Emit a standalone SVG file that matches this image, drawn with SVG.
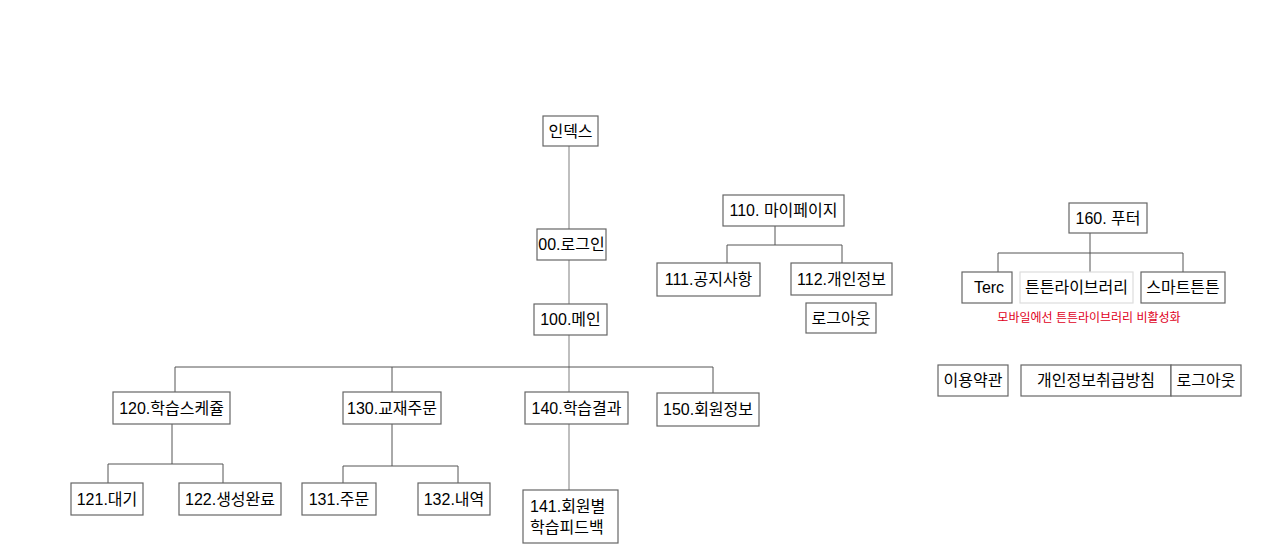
<svg xmlns="http://www.w3.org/2000/svg" width="1280" height="560" viewBox="0 0 1280 560">
<style>
.b{fill:#fff;stroke:#666;stroke-width:1.2}
.bl{fill:#fff;stroke:#ddd;stroke-width:1.2}
.t{font-family:"Liberation Sans","Noto Sans CJK KR",sans-serif;font-size:16px;fill:#000;text-anchor:middle;dominant-baseline:central}
.r{font-family:"Liberation Sans","Noto Sans CJK KR",sans-serif;font-size:12px;fill:#e0001b;text-anchor:middle;dominant-baseline:central}
.c{fill:none;stroke:#555;stroke-width:1}
.cl{fill:none;stroke:#aaa;stroke-width:1.5}
</style>
<rect width="1280" height="560" fill="#fff"/>
<g id="connectors">
<path class="cl" d="M569 146V229M569 260V304M569 335V392M569 424V490"/>
<path class="c" d="M175 392V367H713V393M392 367V392"/>
<path class="c" d="M172 424V464M108 483V464H223V483"/>
<path class="c" d="M392 424V466M343 483V466H458V483"/>
<path class="c" d="M775 226V245M727 263V245H842V263"/>
<path class="c" d="M1090 233V272M998 272V253H1183V272"/>
</g>
<g id="n-index"><rect class="b" x="543" y="116" width="55" height="30"/><text class="t" x="570.5" y="131">인덱스</text></g>
<g id="n-login"><rect class="b" x="537" y="229" width="69" height="31"/><text class="t" x="571.5" y="244.5">00.로그인</text></g>
<g id="n-main"><rect class="b" x="534" y="304" width="73" height="31"/><text class="t" x="570.5" y="319.5">100.메인</text></g>
<g id="n-120"><rect class="b" x="113" y="392" width="117" height="32"/><text class="t" x="171.5" y="408">120.학습스케쥴</text></g>
<g id="n-130"><rect class="b" x="343" y="392" width="98" height="32"/><text class="t" x="392" y="408">130.교재주문</text></g>
<g id="n-140"><rect class="b" x="525" y="392" width="103" height="32"/><text class="t" x="576.5" y="408">140.학습결과</text></g>
<g id="n-150"><rect class="b" x="657" y="393" width="102" height="33"/><text class="t" x="708" y="409.5">150.회원정보</text></g>
<g id="n-121"><rect class="b" x="71" y="483" width="72" height="32"/><text class="t" x="107" y="499">121.대기</text></g>
<g id="n-122"><rect class="b" x="179" y="483" width="102" height="32"/><text class="t" x="230" y="499">122.생성완료</text></g>
<g id="n-131"><rect class="b" x="302" y="483" width="74" height="32"/><text class="t" x="339" y="499">131.주문</text></g>
<g id="n-132"><rect class="b" x="418" y="483" width="72" height="32"/><text class="t" x="454" y="499">132.내역</text></g>
<g id="n-141"><rect class="b" x="523" y="490" width="95" height="53"/><text class="t" x="530" y="506" style="text-anchor:start">141.회원별</text><text class="t" x="530" y="527" style="text-anchor:start">학습피드백</text></g>
<g id="n-110"><rect class="b" x="723" y="195" width="121" height="31"/><text class="t" x="783.5" y="210.5">110. 마이페이지</text></g>
<g id="n-111"><rect class="b" x="657" y="263" width="103" height="33"/><text class="t" x="708.5" y="279.5">111.공지사항</text></g>
<g id="n-112"><rect class="b" x="791" y="263" width="101" height="32"/><text class="t" x="841.5" y="279">112.개인정보</text></g>
<g id="n-logout1"><rect class="b" x="806" y="303" width="70" height="30"/><text class="t" x="841" y="318">로그아웃</text></g>
<g id="n-160"><rect class="b" x="1069" y="203" width="78" height="30"/><text class="t" x="1108" y="218">160. 푸터</text></g>
<g id="n-terc"><rect class="b" x="962" y="272" width="50" height="31"/><text class="t" x="989" y="287.5">Terc</text></g>
<g id="n-lib"><rect class="bl" x="1020" y="272" width="113" height="31"/><text class="t" x="1076.5" y="287.5">튼튼라이브러리</text></g>
<g id="n-smart"><rect class="b" x="1141" y="272" width="84" height="31"/><text class="t" x="1183" y="287.5">스마트튼튼</text></g>
<text class="r" x="1089" y="318">모바일에선 튼튼라이브러리 비활성화</text>
<g id="n-terms"><rect class="b" x="938" y="365" width="70" height="31"/><text class="t" x="973" y="380.5">이용약관</text></g>
<g id="n-privacy"><rect class="b" x="1021" y="365" width="150" height="31"/><text class="t" x="1096" y="380.5">개인정보취급방침</text></g>
<g id="n-logout2"><rect class="b" x="1171" y="365" width="70" height="31"/><text class="t" x="1206" y="380.5">로그아웃</text></g>
</svg>
